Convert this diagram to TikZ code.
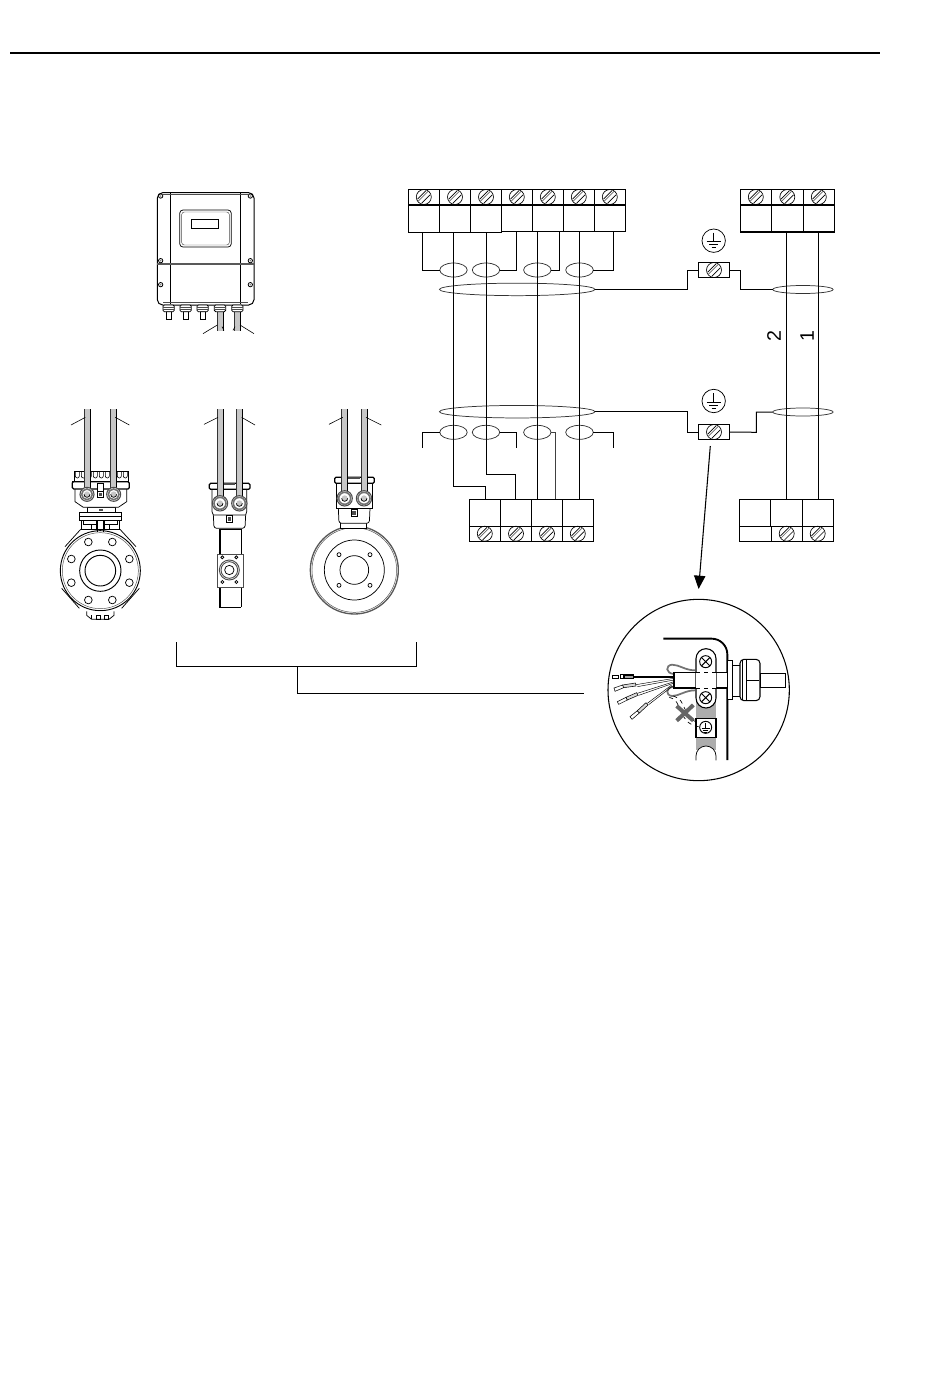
\documentclass[tikz,border=0pt]{standalone}
\usepackage{fontspec}
\setmainfont{Liberation Sans}
\usetikzlibrary{shapes.geometric,arrows.meta,calc}
\definecolor{cablegray}{gray}{0.78}
\definecolor{bandgray}{gray}{0.68}
\tikzset{
  wire/.style={line width=.75pt,black},
  thinline/.style={line width=.45pt,black},
  part/.style={line width=.55pt,black},
  faint/.style={line width=.35pt,black!70},
  ell/.style={ellipse,draw,line width=.55pt,black!80,inner sep=0pt,outer sep=0pt},
  cell/.style={rectangle,draw,line width=.8pt,inner sep=0pt,outer sep=0pt},
  lbl/.style={font=\fontsize{14.7pt}{15pt}\selectfont,inner sep=0pt,rotate=90}
}
\newcommand\Ell[5]{\node[ell,minimum width=#4*0.75pt,minimum height=#5*0.75pt] (#1) at (#2,#3) {};}
\newcommand\TBox[5]{%
  \pgfmathsetmacro\cx{(#2+#4)/2}\pgfmathsetmacro\cy{(#3+#5)/2}%
  \pgfmathsetmacro\bw{abs(#4-#2)*0.75}\pgfmathsetmacro\bh{abs(#5-#3)*0.75}%
  \node[cell,minimum width=\bw pt,minimum height=\bh pt] (#1) at (\cx,\cy) {};}
\newcommand\Screw[2]{%
  \begin{scope}[shift={(#1,#2)}]
    \draw[line width=.5pt] (0,0) circle (7.5);
    \draw[line width=.5pt] (-6.3,2.2) -- (2.2,-6.3) (-2.2,6.3) -- (6.3,-2.2);
    \draw[line width=.5pt,black!60] (-5.6,4.2) -- (4.2,-5.6);
  \end{scope}}
\newcommand\Earth[2]{%
  \begin{scope}[shift={(#1,#2)}]
    \draw[line width=.55pt] (0,0) circle (11.7);
    \draw[line width=.55pt] (0,-8) -- (0,1) (-7,1) -- (7,1) (-4.5,4) -- (4.5,4) (-2,7) -- (2,7);
  \end{scope}}
% the next macros work in 3x zoom units
\newcommand\Cable[3]{%
  \fill[cablegray] (#1-9,#2) rectangle (#1+9,#3);
  \draw[line width=.4pt,black!80] (#1-9,#2) -- (#1-9,#3);
  \draw[line width=.55pt] (#1+9,#2) -- (#1+9,#3);}
\newcommand\Gland[3]{%
  \fill[white] (#1,#2) circle (#3);
  \draw[line width=.8pt,black!70] (#1,#2) circle (#3);
  \draw[line width=1.2pt,black!55] (#1,#2) circle (#3-5);
  \fill[cablegray] (#1,#2) circle (9);
  \draw[part] (#1-9,#2) arc (180:0:9);}
\begin{document}
\begin{tikzpicture}[x=.75pt,y=-.75pt]
\useasboundingbox (0,0) rectangle (950,1378);
\fill[white] (0,0) rectangle (950,1378);
% page rule
\coordinate (ruleL) at (10,53); \coordinate (ruleR) at (880,53);
\draw[line width=1.7pt] (ruleL) -- (ruleR);

%---------- transmitter housing
\begin{scope}[shift={(130,170)},scale=1/3]
  \draw[line width=.75pt,rounded corners=4pt] (82,68) rectangle (372,405);
  \draw[part] (121,70) -- (121,402) (331,70) -- (331,402);
  \draw[faint] (100,72) -- (354,72) (100,398) -- (354,398);
  \draw[line width=1.3pt,black!65] (82,282) -- (372,282);
  \draw[part,rounded corners=2.5pt] (149,120) rectangle (304,231);
  \draw[faint,rounded corners=2pt] (155,126) rectangle (298,225);
  \draw[line width=.45pt] (184,147) rectangle (266,176);
  \foreach \p in {(92,78),(361,78),(92,272),(361,272),(92,344),(361,344)}{
    \draw[line width=.6pt] \p circle (6.5);
    \fill[black!55] \p circle (2.5);}
  \foreach \x in {116,167,218}{
    \draw[part] (\x-7,425) rectangle (\x+7,449);
    \draw[part,fill=white,rounded corners=1pt] (\x-17,405) rectangle (\x+17,425);
    \draw[faint] (\x-17,412) -- (\x+17,412) (\x-17,418) -- (\x+17,418);}
  \foreach \x in {270,322}{
    \Cable{\x}{425}{484}
    \draw[part,fill=white,rounded corners=1pt] (\x-17,405) rectangle (\x+17,425);
    \draw[faint] (\x-17,412) -- (\x+17,412) (\x-17,418) -- (\x+17,418);}
  \draw[thinline] (219,491) -- (262,465) (372,491) -- (330,465);
  \draw[thinline] (282,481) -- (276,470) (309,481) -- (315,470);
\end{scope}

%---------- valve 1 (flanged)
\begin{scope}[shift={(40,400)},scale=1/3]
  % body
  \draw[line width=.7pt] (181,512) circle (120);
  \draw[faint] (181,512) circle (114);
  \draw[part] (75,440) -- (122,388) (288,440) -- (240,388)
              (65,565) -- (118,625) (298,565) -- (245,625);
  \draw[line width=.7pt] (181,512) circle (62);
  \draw[line width=.7pt] (181,512) circle (46);
  \foreach \p in {(145,426),(217,426),(94,477),(268,477),(94,548),(268,548),(145,600),(217,600)}
    \draw[part] \p circle (11.5);
  % bottom lug
  \draw[part,fill=white] (140,634) -- (140,646) -- (155,658) -- (207,658) -- (222,646) -- (222,634);
  \draw[part] (155,645) -- (155,658) (170,645) rectangle (182,658) (192,645) rectangle (205,658);
  % neck
  \draw[part,fill=white] (125,362) rectangle (238,388);
  \draw[part,fill=white] (130,362) rectangle (170,372) (192,362) rectangle (232,372);
  \draw[part] (155,372) rectangle (168,388) (194,372) rectangle (207,388);
  \draw[part,fill=white] (172,362) -- (172,396) (190,362) -- (190,396);
  \draw[line width=.9pt,fill=white] (118,338) rectangle (245,362);
  \draw[part] (118,350) -- (245,350);
  \draw[part,fill=white] (142,322) rectangle (225,338);
  \fill[black!70] (176,326) rectangle (188,333);
  % head
  \draw[part,fill=white] (105,267) -- (105,305) -- (130,322) -- (235,322) -- (260,305) -- (260,267);
  \draw[part,fill=white] (103,213) rectangle (265,245);
  \foreach \x in {112,130,148,166,184,202,220,238,256}
    \draw[line width=.45pt] (\x-6,215) -- (\x-6,228) arc (180:0:6) -- (\x+6,215);
  \draw[line width=.9pt,fill=white,rounded corners=1pt] (97,245) rectangle (268,267);
  \draw[line width=1.2pt] (97,245) -- (268,245);
  \Cable{141}{28}{280}
  \Cable{221}{28}{280}
  \Gland{141}{283}{21}
  \Gland{221}{283}{21}
  \draw[part,fill=white] (173,250) rectangle (189,275);
  \draw[part,fill=white] (173,275) rectangle (189,292);
  \fill[black!70] (176,279) rectangle (186,288);
  \draw[thinline] (93,75) -- (136,52) (268,75) -- (226,52);
\end{scope}

%---------- valve 2 (narrow)
\begin{scope}[shift={(190,400)},scale=1/3]
  \draw[part] (88,388) -- (88,622) (92,388) -- (92,622) (153,388) -- (153,622);
  \draw[part] (88,622) -- (153,622) (88,388) -- (153,388);
  \draw[faint,fill=white] (82,462) rectangle (160,562);
  \draw[line width=.7pt,black!70] (118,510) circle (30);
  \draw[line width=.7pt,black!70] (118,510) circle (25);
  \draw[part] (118,510) circle (14);
  \foreach \p in {(97,472),(139,472),(97,546),(139,546)} \draw[part] \p circle (4.5);
  \draw[part,fill=white,rounded corners=2pt] (70,345) -- (72,385) -- (165,385) -- (167,345);
  \draw[part,fill=white] (66,268) -- (66,335) -- (70,345) -- (167,345) -- (170,335) -- (170,268) -- cycle;
  \draw[line width=.9pt,fill=white,rounded corners=1pt] (58,250) rectangle (180,268);
  \fill[black!70] (100,250) rectangle (135,256);
  \Cable{90}{28}{305}
  \Cable{148}{28}{305}
  \Gland{90}{310}{23}
  \Gland{148}{310}{23}
  \draw[part] (110,345) rectangle (127,368);
  \fill[black!70] (113,350) rectangle (124,362);
  \draw[thinline] (42,73) -- (84,52) (195,75) -- (155,52);
\end{scope}

%---------- valve 3 (disc)
\begin{scope}[shift={(190,400)},scale=1/3]
  \draw[line width=1pt,black!65] (493,510) circle (132);
  \draw[faint] (493,510) circle (127);
  \draw[part] (493,510) circle (90);
  \draw[part] (493,510) circle (43);
  \foreach \p in {(447,464),(540,464),(447,556),(540,556)} \draw[part] \p circle (6);
  \draw[part,fill=white] (452,370) -- (452,385) -- (530,385) -- (530,370);
  \draw[part,fill=white,rounded corners=2pt] (445,325) -- (447,370) -- (538,370) -- (540,325);
  \draw[part,fill=white] (440,250) -- (440,325) -- (548,325) -- (548,250) -- cycle;
  \draw[line width=.9pt,fill=white,rounded corners=1pt] (434,232) rectangle (553,250);
  \fill[black!70] (475,232) rectangle (510,238);
  \Cable{464}{28}{290}
  \Cable{522}{28}{290}
  \Gland{464}{295}{23}
  \Gland{522}{295}{23}
  \draw[part] (484,328) rectangle (502,350);
  \fill[black!70] (487,333) rectangle (499,345);
  \draw[thinline] (417,73) -- (458,52) (574,75) -- (528,52);
\end{scope}

%---------- bracket
\coordinate (brL) at (176,642); \coordinate (brR) at (416,642);
\coordinate (brM) at (297,666); \coordinate (brE) at (584,693);
\draw[wire] (brL) -- (176,666) -- (416,666) -- (brR);
\draw[wire] (brM) |- (brE);

%---------- top left terminal block
\TBox{a1}{408.3}{189.3}{439.3}{205}
\TBox{a2}{439.3}{189.3}{470.7}{205}
\TBox{a3}{470.7}{189.3}{501.3}{205}
\TBox{a4}{501.3}{189.3}{532.3}{205}
\TBox{a5}{532.3}{189.3}{563.3}{205}
\TBox{a6}{563.3}{189.3}{594.3}{205}
\TBox{a7}{594.3}{189.3}{625.3}{205}
\TBox{b1}{408.3}{205}{439.3}{232.3}
\TBox{b2}{439.3}{205}{470.7}{232.3}
\TBox{b3}{470.7}{205}{501.3}{232.3}
\TBox{b4}{501.3}{205}{532.3}{231.3}
\TBox{b5}{532.3}{205}{563.3}{231.3}
\TBox{b6}{563.3}{205}{594.3}{231.3}
\TBox{b7}{594.3}{205}{625.3}{231.3}
\draw[line width=1.3pt] (470.7,205) -- (625.3,205);
\Screw{423.8}{197}\Screw{455}{197}\Screw{486}{197}\Screw{516.8}{197}\Screw{547.8}{197}\Screw{578.8}{197}\Screw{609.8}{197}

%---------- top right terminal block
\TBox{c1}{740.3}{189.3}{771.3}{205}
\TBox{c2}{771.3}{189.3}{803.3}{205}
\TBox{c3}{803.3}{189.3}{834.3}{205}
\TBox{d1}{740.3}{205}{771.3}{232}
\TBox{d2}{771.3}{205}{803.3}{232}
\TBox{d3}{803.3}{205}{834.3}{232}
\Screw{755.8}{197}\Screw{787.3}{197}\Screw{818.8}{197}

%---------- bottom left terminal block
\TBox{e1}{469.3}{499.3}{500.3}{526.3}
\TBox{e2}{500.3}{499.3}{531.7}{526.3}
\TBox{e3}{531.7}{499.3}{562.3}{526.3}
\TBox{e4}{562.3}{499.3}{593.3}{526.3}
\TBox{f1}{469.3}{526.3}{500.3}{541.7}
\TBox{f2}{500.3}{526.3}{531.7}{541.7}
\TBox{f3}{531.7}{526.3}{562.3}{541.7}
\TBox{f4}{562.3}{526.3}{593.3}{541.7}
\Screw{484.8}{533.7}\Screw{516}{533.7}\Screw{547}{533.7}\Screw{577.8}{533.7}

%---------- bottom right terminal block
\TBox{g1}{739.3}{499.3}{770.3}{526.3}
\TBox{g2}{770.3}{499.3}{802.7}{526.3}
\TBox{g3}{802.7}{499.3}{833.7}{526.3}
\TBox{h1}{739.3}{526.3}{771.7}{541.7}
\TBox{h2}{771.7}{526.3}{802.7}{541.7}
\TBox{h3}{802.7}{526.3}{833.7}{541.7}
\Screw{786.7}{533.7}\Screw{817.7}{533.7}

%---------- shields, upper
\Ell{u1}{453.5}{270}{27.4}{14}
\Ell{u2}{486}{270}{27.4}{14}
\Ell{u3}{537.3}{270}{27.4}{14}
\Ell{u4}{579.5}{270}{27.6}{14}
\Ell{U}{517.2}{289.4}{155.6}{12.5}
\Ell{UR}{802.9}{289.5}{60.4}{8}
%---------- shields, lower
\Ell{v1}{453.5}{432.3}{27.4}{14}
\Ell{v2}{486}{432.3}{27.4}{14}
\Ell{v3}{537.3}{432.3}{27.4}{14}
\Ell{v4}{579.5}{432.3}{27.6}{14}
\Ell{V}{517.2}{411.7}{155.6}{12.5}
\Ell{VR}{802.9}{412}{60.4}{8}

%---------- earth clamps
\TBox{k1}{698.3}{262.3}{729.7}{277.7}
\TBox{k2}{698.3}{424.3}{729.7}{439.7}
\Screw{714}{270}\Screw{714}{432}
\Earth{713.7}{240.7}\Earth{713.7}{401}

%---------- signal wires
\coordinate (s1) at (453.3,232.3); \coordinate (s2) at (486.7,232.3);
\coordinate (s3) at (537.3,231.3); \coordinate (s4) at (579.7,231.3);
\coordinate (e1t) at (485.7,499.3); \coordinate (e2t) at (515.7,499.3);
\draw[wire] (s1) -- (453.3,486.7) -| (e1t);
\draw[wire] (s2) -- (486.7,474.3) -| (e2t);
\draw[wire] (s3) -- (537.3,499.3);
\draw[wire] (s4) -- (579.7,499.3);
\draw[wire] (786.7,232) -- (786.7,499.3);
\draw[wire] (818.7,232) -- (818.7,499.3);

%---------- shield wires, upper
\draw[wire] (u1.west) -| (422.3,232.3);
\draw[wire] (u2.east) -| (516.7,231.3);
\draw[wire] (u3.east) -| (559.3,231.3);
\draw[wire] (u4.east) -| (613.3,231.3);
\draw[wire] (U.east) -- (687.3,289.4) |- (k1.west);
\draw[wire] (k1.east) -- (740.3,270) |- (UR.west);
%---------- shield wires, lower
\draw[line width=.6pt] (v1.west) -| (422.3,447.7);
\draw[line width=.6pt] (v2.east) -| (516.7,447.7);
\draw[line width=.6pt,black!75] (v3.east) -| (555.7,499.3);
\draw[line width=.6pt] (v4.east) -| (613.3,447.7);
\draw[wire] (V.east) -- (687.3,411.7) |- (k2.west);
\draw[wire] (k2.east) -- (756.3,432.3) |- (VR.west);

%---------- cable labels
\node[lbl] (two) at (774,336) {2};
\node[lbl] (one) at (807,336) {1};

%---------- detail arrow
\coordinate (arrS) at (710.3,446); \coordinate (arrE) at (698.6,589);
\draw[line width=.8pt,-{Triangle[length=10pt,width=8.5pt]}] (arrS) -- (arrE);

%---------- detail circle
\begin{scope}[shift={(600,590)},scale=1/3]
  \draw[line width=.8pt] (296,300) circle (272);
  % housing wall
  \draw[line width=1.4pt] (190,146) -- (335,146) arc (-90:0:47) -- (382,510);
  % earth strip
  \fill[bandgray] (288,200) rectangle (348,480);
  \fill[white] (288,511) -- (288,498) arc (180:360:30) -- (348,511) -- cycle;
  \draw[part] (288,511) -- (288,498) arc (180:360:30) -- (348,511);
  % gland
  \draw[part,fill=white] (382,210) rectangle (398,328);
  \draw[part,fill=white] (398,225) rectangle (420,318);
  \draw[line width=.8pt,fill=white,rounded corners=3pt] (420,208) rectangle (480,332);
  \draw[part] (428,210) -- (428,330) (440,210) -- (440,330) (440,270) -- (478,270);
  \draw[part,fill=white] (480,250) rectangle (555,292);
  % shield loops
  \draw[line width=1.3pt,black!55,fill=white] (285,241) .. controls (255,241) and (238,224) .. (216,224) .. controls (196,226) and (196,250) .. (222,252);
  \draw[line width=1.3pt,black!55,fill=white] (285,301) .. controls (255,301) and (238,318) .. (216,318) .. controls (196,316) and (196,292) .. (222,290);
  % cable
  \draw[line width=.8pt,fill=white] (380,248) -- (222,248) -- (222,294) -- (380,294);
  % wires
  \draw[line width=.7pt] (222,258) -- (100,258);
  \draw[line width=.35pt] (222,262) -- (100,262);
  \draw[line width=.35pt] (222,265) -- (108,284) (222,270) -- (112,290);
  \draw[line width=.35pt] (222,275) -- (112,310) (222,279) -- (116,316);
  \draw[line width=.35pt] (215,285) -- (142,340) (218,288) -- (146,344);
  % ferrules
  \draw[part,fill=white] (37,255) rectangle (55,265);
  \draw[part,fill=white] (60,254) rectangle (72,266);
  \draw[line width=.8pt,fill=black!35] (72,255) rectangle (100,265);
  \draw[line width=.4pt,fill=white] (42,294) -- (68,285) -- (71,293) -- (45,304) -- cycle;
  \draw[line width=.4pt,fill=black!15] (68,285) -- (106,279) -- (108,288) -- (71,293) -- cycle;
  \draw[line width=.4pt,fill=white] (52,335) -- (78,322) -- (82,330) -- (56,343) -- cycle;
  \draw[line width=.4pt,fill=black!15] (78,322) -- (110,308) -- (114,316) -- (82,330) -- cycle;
  \draw[line width=.4pt,fill=white] (90,380) -- (112,362) -- (118,369) -- (96,388) -- cycle;
  \draw[line width=.4pt,fill=black!15] (112,362) -- (138,338) -- (144,345) -- (118,369) -- cycle;
  % clamp
  \draw[line width=.8pt,fill=white] (288,206) arc (180:360:30) -- (348,324) arc (0:180:30) -- cycle;
  \fill[white] (289,247) rectangle (347,295);
  \draw[part,dashed] (288,246) -- (348,246) (288,296) -- (348,296);
  \draw[part] (348,248) -- (382,248) (348,294) -- (382,294) (222,248) -- (288,248) (222,294) -- (288,294);
  \foreach \a/\b in {317/215,317/323}{
    \begin{scope}[shift={(\a,\b)}]
    \draw[line width=.7pt] (0,0) circle (18);
    \draw[line width=.7pt] (-12.7,-12.7) -- (12.7,12.7) (-12.7,12.7) -- (12.7,-12.7);
    \end{scope}}
  % earth terminal
  \draw[line width=.8pt,fill=white] (288,385) rectangle (348,442);
  \draw[line width=.7pt] (317,412) circle (18);
  \draw[line width=.7pt] (317,398) -- (317,414) (305,414) -- (329,414) (309,420) -- (325,420) (313,426) -- (321,426);
  % forbidden route
  \draw[line width=.5pt,dashed] (208,322) .. controls (250,328) and (230,400) .. (296,410);
  \draw[line width=.5pt,dashed] (220,318) .. controls (262,328) and (245,385) .. (296,398);
  \draw[line width=3pt,black!60] (230,348) -- (280,392) (280,345) -- (230,392);
\end{scope}
\end{tikzpicture}
\end{document}
